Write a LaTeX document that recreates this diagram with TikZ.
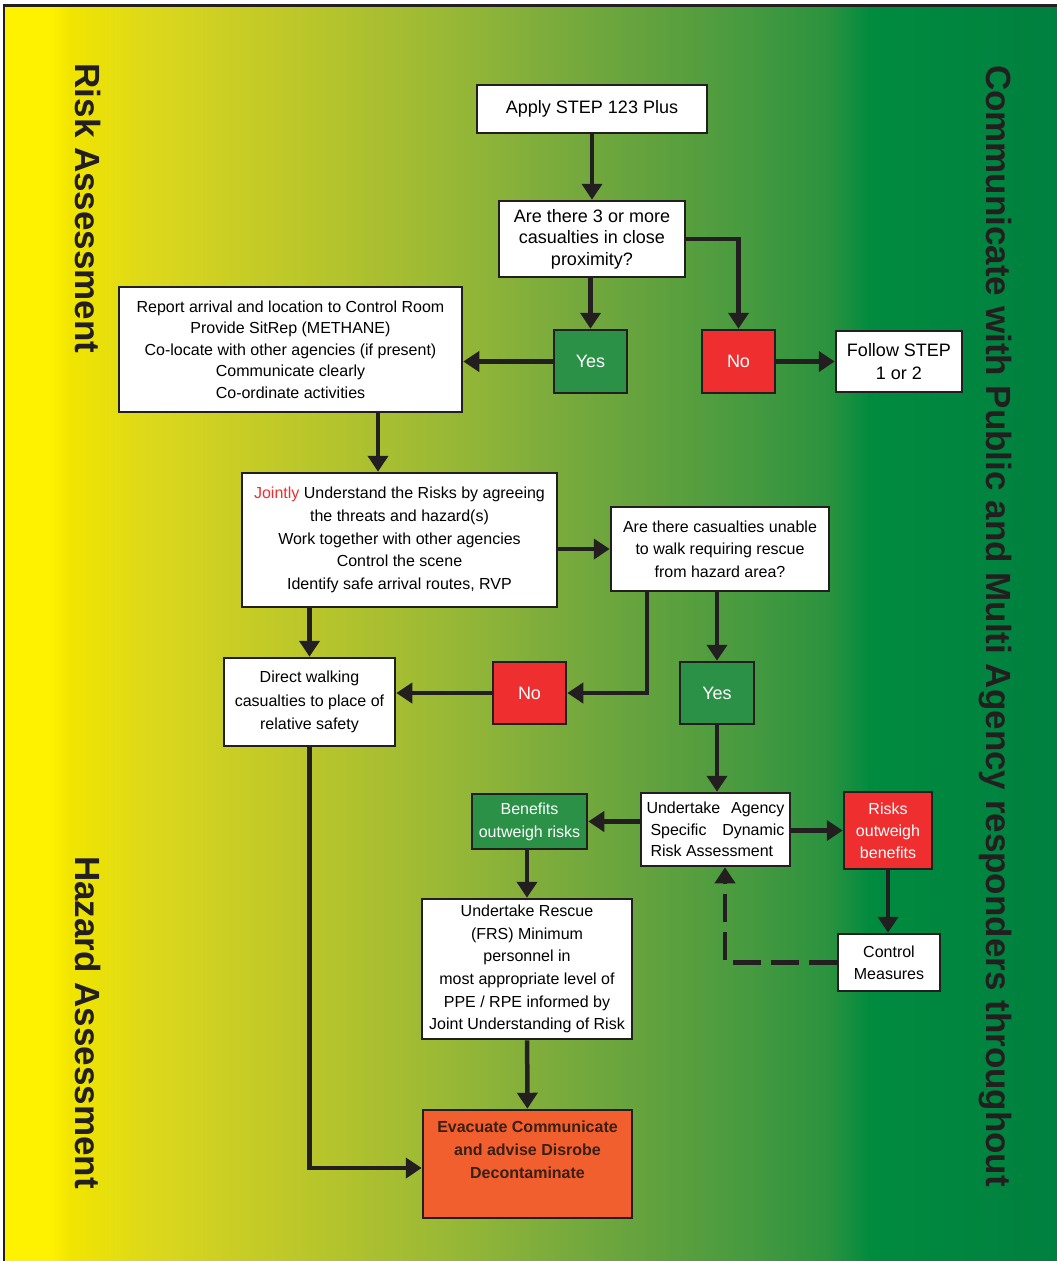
\documentclass[tikz,border=0pt]{standalone}
\usepackage{fontspec}
\setmainfont{Liberation Sans}
\usetikzlibrary{arrows.meta}
\definecolor{ink}{HTML}{231F20}
\definecolor{okgreen}{HTML}{2A9147}
\definecolor{nored}{HTML}{EE2E2F}
\definecolor{evacorange}{HTML}{F15F2E}
\definecolor{evactext}{HTML}{3A1F14}
\definecolor{g0}{HTML}{FFF200}
\definecolor{g1}{HTML}{FFF200}
\definecolor{g2}{HTML}{F1E500}
\definecolor{g3}{HTML}{DCD81C}
\definecolor{g4}{HTML}{C6CC26}
\definecolor{g5}{HTML}{B0C22E}
\definecolor{g6}{HTML}{98B836}
\definecolor{g7}{HTML}{7CAC3C}
\definecolor{g8}{HTML}{62A23E}
\definecolor{g9}{HTML}{469A3F}
\definecolor{g10}{HTML}{2A923F}
\definecolor{g11}{HTML}{008B3F}
\definecolor{g12}{HTML}{00803F}
\tikzset{
  box/.style={draw=ink, line width=2.5pt, fill=white, align=center, inner sep=0pt,
    font=\fontsize{16}{21.5}\selectfont, text=black},
  bigbox/.style={box, font=\fontsize{18}{21.5}\selectfont},
  yesbox/.style={box, fill=okgreen, text=white, font=\fontsize{18}{21.5}\selectfont},
  nobox/.style={box, fill=nored, text=white, font=\fontsize{18}{21.5}\selectfont},
  sidelabel/.style={font=\fontsize{35}{35}\bfseries\selectfont, text=ink, rotate=-90, inner sep=0pt},
  arr/.style={draw=ink, line width=4.5pt, -{Triangle[width=20pt,length=16pt]}},
}
\begin{document}
\begin{tikzpicture}[x=1pt,y=-1pt]
\useasboundingbox (0,0) rectangle (1057,1261);
\fill[white] (0,0) rectangle (1057,1261);
% background gradient
\foreach \xa/\xb/\ca/\cb in {5/50/g0/g1, 50/70/g1/g2, 70/150/g2/g3, 150/250/g3/g4, 250/350/g4/g5, 350/450/g5/g6, 450/550/g6/g7, 550/650/g7/g8, 650/750/g8/g9, 750/830/g9/g10, 830/870/g10/g11, 870/1057/g11/g12}
  \shade[left color=\ca, right color=\cb] (\xa-0.3,6) rectangle (\xb+0.3,1261);
\draw[ink, line width=2.5pt] (4,1261) -- (4,5.5) -- (1057,5.5);

% side labels
\node[sidelabel] (risklab) at (88,208.5) {Risk Assessment};
\node[sidelabel] (hazlab) at (88,1022.5) {Hazard Assessment};
\node[sidelabel] (commlab) at (995,626) {Communicate with Public and Multi Agency responders throughout};

% boxes
\node[bigbox, minimum width=230pt, minimum height=48pt] (apply) at (592,109) {Apply STEP 123 Plus};
\node[bigbox, minimum width=186pt, minimum height=76pt] (q1) at (592,239) {Are there 3 or more\\casualties in close\\proximity?};
\node[yesbox, minimum width=73pt, minimum height=63pt] (yes1) at (590.5,361.5) {Yes};
\node[nobox, minimum width=73pt, minimum height=63pt] (no1) at (738.5,361.5) {No};
\node[bigbox, minimum width=126pt, minimum height=61pt, font=\fontsize{18}{23}\selectfont] (follow) at (899,361.5) {Follow STEP\\1 or 2};
\node[box, minimum width=343pt, minimum height=125pt] (report) at (290.5,349.5) {Report arrival and location to Control Room\\Provide SitRep (METHANE)\\Co-locate with other agencies (if present)\\Communicate clearly\\Co-ordinate activities};
\node[box, minimum width=315pt, minimum height=134pt, font=\fontsize{16}{22.7}\selectfont] (jointly) at (399.5,540) {\textcolor{nored}{Jointly} Understand the Risks by agreeing\\the threats and hazard(s)\\Work together with other agencies\\Control the scene\\Identify safe arrival routes, RVP};
\node[box, minimum width=218pt, minimum height=84pt, font=\fontsize{16}{22.5}\selectfont] (q2) at (720,549) {Are there casualties unable\\to walk requiring rescue\\from hazard area?};
\node[box, minimum width=171pt, minimum height=88pt, font=\fontsize{16}{23.5}\selectfont] (direct) at (309.5,702) {Direct walking\\casualties to place of\\relative safety};
\node[nobox, minimum width=73pt, minimum height=62pt] (no2) at (529.5,693) {No};
\node[yesbox, minimum width=74pt, minimum height=62pt] (yes2) at (717,693) {Yes};
\node[yesbox, minimum width=115pt, minimum height=55pt, font=\fontsize{16}{23}\selectfont] (benefits) at (529.5,821.5) {Benefits\\outweigh risks};
\node[box, minimum width=149pt, minimum height=73pt] (dra) at (715.5,829.5) {\hbox to 138pt{Undertake\hfill Agency}\\\hbox to 138pt{\hspace{4pt}Specific\hfill Dynamic}\\\hbox to 138pt{\hspace{4pt}Risk Assessment\hfill}};
\node[nobox, minimum width=88pt, minimum height=77pt, font=\fontsize{16}{22}\selectfont] (risks) at (888,830.5) {Risks\\outweigh\\benefits};
\node[box, minimum width=210pt, minimum height=140pt, font=\fontsize{16}{22.6}\selectfont] (rescue) at (527,969) {Undertake Rescue\\(FRS) Minimum\\personnel in\\most appropriate level of\\PPE / RPE informed by\\Joint Understanding of Risk};
\node[box, minimum width=102pt, minimum height=57pt, font=\fontsize{16}{22}\selectfont] (control) at (889,962.5) {Control\\Measures};
\node[box, fill=evacorange, minimum width=209pt, minimum height=108pt] (evac) at (527.5,1164) {};
\node[font=\fontsize{16}{23}\bfseries\selectfont, text=evactext, align=center] (evactxt) at (527.5,1150) {Evacuate Communicate\\and advise Disrobe\\Decontaminate};

% helper coordinates
\coordinate (xr) at (378,0);
\coordinate (xq) at (647,0);
\coordinate (xd) at (725,0);
\coordinate (ye) at (0,1168);

% connectors
\draw[arr] (apply) -- (q1);
\draw[arr] (q1.south -| yes1) -- (yes1);
\draw[arr] (q1.east) -| (no1);
\draw[arr] (no1) -- (follow);
\draw[arr] (yes1.west) -- (yes1.west -| report.east);
\draw[arr] (report.south -| xr) -- (jointly.north -| xr);
\draw[arr] (jointly.east |- q2) -- (q2.west);
\draw[arr] (jointly.south -| direct) -- (direct);
\draw[arr] (q2.south -| xq) |- (no2.east);
\draw[arr] (q2.south -| yes2) -- (yes2);
\draw[arr] (no2.west) -- (no2.west -| direct.east);
\draw[arr] (yes2) -- (yes2 |- dra.north);
\draw[arr] (dra.west |- benefits.east) -- (benefits.east);
\draw[arr] (dra.east |- risks.west) -- (risks.west);
\draw[arr] (benefits.south -| rescue) -- (rescue.north);
\draw[arr] (risks) -- (risks |- control.north);
\draw[arr, dash pattern=on 28pt off 10pt] (control.west) -| (xd |- dra.south);
\draw[arr] (rescue) -- (evac);
\draw[arr] (direct.south) |- (evac.west |- ye);
\end{tikzpicture}
\end{document}
